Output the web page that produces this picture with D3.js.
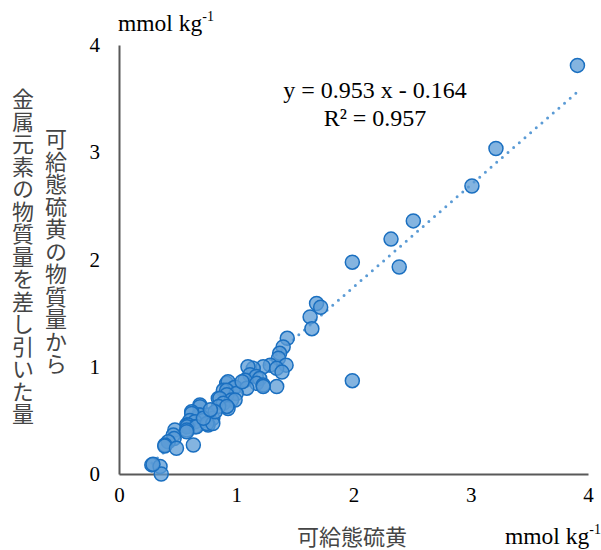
<!DOCTYPE html>
<html>
<head>
<meta charset="utf-8">
<script src="https://cdn.jsdelivr.net/npm/d3@7"></script>
<style>
  html, body { margin: 0; padding: 0; background: #fff; }
  svg { display: block; }
</style>
</head>
<body>
<svg id="chart" width="601" height="550"></svg>
<script>
// ---- data ----
const xValues = [3.91, 3.215, 3.01, 2.51, 2.32, 1.99, 2.39, 1.99, 1.685, 1.72,
  1.63, 1.645, 1.435, 1.40, 1.37, 1.36, 1.425, 1.29, 1.23, 1.145,
  1.345, 1.39, 1.10, 1.117, 1.17, 1.2, 1.075, 1.174, 1.23, 1.345,
  1.23, 0.918, 0.93, 0.975, 0.99, 1.09, 0.89, 0.918, 1.0, 0.92,
  0.847, 0.86, 0.96, 0.99, 0.89, 0.93, 0.85, 0.92, 0.69, 0.69,
  0.76, 0.68, 0.69, 0.80, 0.72, 0.62, 0.62, 0.605, 0.648, 0.577,
  0.59, 0.648, 0.58, 0.66, 0.76, 0.75, 0.80, 0.477, 0.577, 0.577,
  0.463, 0.47, 0.42, 0.392, 0.39, 0.49, 0.634, 0.28, 0.35, 0.36,
  0.29, 0.72, 0.82, 0.78, 1.05];
const yValues = [3.81, 3.035, 2.685, 2.36, 2.19, 1.975, 1.93, 0.87, 1.59, 1.555,
  1.465, 1.355, 1.265, 1.185, 1.125, 1.08, 1.015, 1.015, 1.0, 0.985,
  0.985, 0.95, 1.0, 0.925, 0.91, 0.89, 0.875, 0.845, 0.83, 0.815,
  0.815, 0.845, 0.86, 0.80, 0.81, 0.80, 0.78, 0.78, 0.75, 0.74,
  0.705, 0.705, 0.69, 0.69, 0.66, 0.61, 0.63, 0.63, 0.643, 0.627,
  0.55, 0.55, 0.55, 0.52, 0.50, 0.58, 0.565, 0.50, 0.487, 0.457,
  0.457, 0.44, 0.44, 0.44, 0.457, 0.47, 0.47, 0.41, 0.41, 0.394,
  0.363, 0.33, 0.30, 0.27, 0.26, 0.24, 0.27, 0.085, 0.07, 0.0,
  0.09, 0.52, 0.58, 0.60, 0.86];
const xTicks = [0, 1, 2, 3, 4];
const yTicks = [0, 1, 2, 3, 4];
const slope = 0.953, intercept = -0.164;
const equationText = "y = 0.953 x - 0.164";
const r2Text = "R² = 0.957";
const xTitle = "可給態硫黄";
const yTitleOuter = "金属元素の物質量を差し引いた量";
const yTitleInner = "可給態硫黄の物質量から";
const unitMain = "mmol kg";
const unitSup = "-1";

// ---- layout ----
const svg = d3.select("#chart");
const x = d3.scaleLinear().domain([0, 4]).range([119, 588]);
const y = d3.scaleLinear().domain([0, 4]).range([474, 45]);
const serif = "'Liberation Serif', 'Times New Roman', serif";
const cjk = "'Noto Sans CJK JP', sans-serif";

// axes (lines only, no ticks)
const xAxis = d3.axisBottom(x).tickValues(xTicks).tickSize(0).tickPadding(14).tickFormat(d3.format("d"));
const yAxis = d3.axisLeft(y).tickValues(yTicks).tickSize(0).tickPadding(19).tickFormat(d3.format("d"));

const gx = svg.append("g").attr("transform", `translate(0,${y(0)})`).call(xAxis);
const gy = svg.append("g").attr("transform", `translate(${x(0)},0)`).call(yAxis);
[gx, gy].forEach(g => {
  g.select(".domain").attr("stroke", "#595959").attr("stroke-width", 2);
  g.selectAll("text").attr("font-family", serif).attr("font-size", 21).attr("fill", "#000");
});
gx.selectAll("text").attr("dy", "0.68em");

// trendline
const xmin = d3.min(xValues), xmax = d3.max(xValues);
svg.append("line")
  .attr("x1", x(xmin)).attr("y1", y(slope * xmin + intercept))
  .attr("x2", x(xmax)).attr("y2", y(slope * xmax + intercept))
  .attr("stroke", "#5b9bd5").attr("stroke-width", 3)
  .attr("stroke-linecap", "round").attr("stroke-dasharray", "0 7.5");

// points
const pts = d3.zip(xValues, yValues);
svg.append("g").selectAll("circle").data(pts).join("circle")
  .attr("cx", d => x(d[0])).attr("cy", d => y(d[1])).attr("r", 7)
  .attr("fill", "#5b9bd5").attr("fill-opacity", 0.75)
  .attr("stroke", "#1a6fc0").attr("stroke-width", 1.5);

// equation
svg.append("text").attr("x", 375).attr("y", 98).attr("text-anchor", "middle")
  .attr("font-family", serif).attr("font-size", 24).attr("fill", "#000").text(equationText);
svg.append("text").attr("x", 375).attr("y", 126).attr("text-anchor", "middle")
  .attr("font-family", serif).attr("font-size", 24).attr("fill", "#000").text(r2Text);

// unit labels
function unit(xp, yp) {
  const t = svg.append("text").attr("x", xp).attr("y", yp)
    .attr("font-family", serif).attr("font-size", 23.5).attr("fill", "#000");
  t.append("tspan").text(unitMain);
  t.append("tspan").attr("font-size", 14).attr("dy", -10).text(unitSup);
}
unit(118, 31);
unit(505, 544);

// x title
svg.append("text").attr("x", 352).attr("y", 545).attr("text-anchor", "middle")
  .attr("font-family", cjk).attr("font-size", 22).attr("fill", "#454545").text(xTitle);

// y title (vertical)
function vtitle(str, cx, top) {
  svg.append("text").attr("x", cx).attr("y", top)
    .style("writing-mode", "vertical-rl")
    .attr("font-family", cjk).attr("font-size", 22).attr("letter-spacing", 0.5)
    .attr("fill", "#454545").text(str);
}
vtitle(yTitleOuter, 23, 88);
vtitle(yTitleInner, 56, 128);
</script>
</body>
</html>
